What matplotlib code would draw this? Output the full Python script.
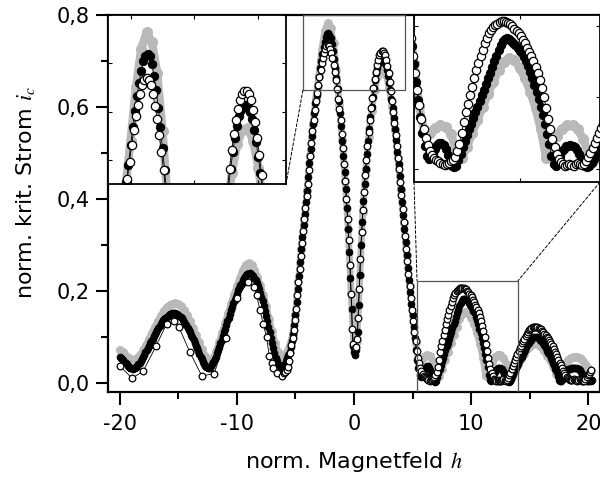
import numpy as np
import matplotlib
matplotlib.use("Agg")
import matplotlib.pyplot as plt
from matplotlib.patches import Rectangle, ConnectionPatch
from matplotlib.ticker import MultipleLocator, FuncFormatter

plt.rcParams["font.family"] = ["DejaVu Sans"]
plt.rcParams["mathtext.fontset"] = "stix"
plt.rcParams["axes.unicode_minus"] = False

# ---- data ----
# grey series, regular grid starting at -20, step 0.25
gray_x0, gray_dx = -20.0, 0.25
gray_y = [
    0.072, 0.066, 0.059, 0.053, 0.050, 0.050, 0.054, 0.061, 0.071, 0.083,
    0.096, 0.109, 0.122, 0.134, 0.146, 0.156, 0.164, 0.169, 0.172, 0.173,
    0.171, 0.166, 0.158, 0.147, 0.134, 0.120, 0.105, 0.089, 0.074, 0.059,
    0.047, 0.044, 0.053, 0.070, 0.089, 0.109, 0.130, 0.151, 0.172, 0.192,
    0.210, 0.228, 0.245, 0.257, 0.260, 0.256, 0.246, 0.231, 0.213, 0.191,
    0.166, 0.139, 0.112, 0.087, 0.068, 0.058, 0.058, 0.066, 0.080, 0.105,
    0.150, 0.222, 0.292, 0.358, 0.420, 0.495, 0.565, 0.620, 0.670, 0.725,
    0.765, 0.782, 0.772, 0.740, 0.680, 0.605, 0.530, 0.440, 0.335, 0.195,
    0.075, 0.090, 0.235, 0.372, 0.462, 0.535, 0.592, 0.636, 0.666, 0.681,
    0.683, 0.670, 0.642, 0.600, 0.550, 0.488, 0.420, 0.348, 0.278, 0.210,
    0.148, 0.088, 0.048, 0.050, 0.057, 0.061, 0.059, 0.048, 0.025, 0.015,
    0.030, 0.050, 0.068, 0.087, 0.105, 0.122, 0.138, 0.150, 0.155, 0.152,
    0.142, 0.127, 0.108, 0.085, 0.055, 0.015, 0.030, 0.046, 0.056, 0.061,
    0.061, 0.055, 0.042, 0.022, 0.012, 0.025, 0.040, 0.052, 0.063, 0.073,
    0.080, 0.085, 0.086, 0.083, 0.077, 0.069, 0.059, 0.049, 0.036, 0.020,
    0.012, 0.025, 0.040, 0.050, 0.055, 0.057, 0.057, 0.055, 0.050, 0.042,
    0.033, 0.025,
]

# black series: left part, middle, right part, all step 0.1
black_outer_x0 = -20.0
black_outer = [
    0.057, 0.055, 0.052, 0.049, 0.046, 0.043, 0.040, 0.037, 0.035, 0.033,
    0.032, 0.031, 0.032, 0.033, 0.035, 0.037, 0.040, 0.043, 0.047, 0.051,
    0.056, 0.061, 0.066, 0.071, 0.076, 0.081, 0.086, 0.091, 0.096, 0.101,
    0.106, 0.111, 0.115, 0.120, 0.124, 0.128, 0.132, 0.136, 0.139, 0.142,
    0.144, 0.146, 0.148, 0.149, 0.150, 0.151, 0.151, 0.151, 0.150, 0.149,
    0.148, 0.146, 0.143, 0.140, 0.137, 0.133, 0.129, 0.125, 0.120, 0.115,
    0.110, 0.105, 0.099, 0.093, 0.087, 0.081, 0.075, 0.069, 0.063, 0.057,
    0.052, 0.046, 0.041, 0.037, 0.034, 0.032, 0.032, 0.033, 0.036, 0.040,
    0.045, 0.051, 0.057, 0.064, 0.071, 0.078, 0.086, 0.094, 0.102, 0.110,
    0.118, 0.126, 0.134, 0.142, 0.150, 0.158, 0.165, 0.173, 0.180, 0.187,
    0.194, 0.201, 0.207, 0.213, 0.218, 0.223, 0.227, 0.231, 0.234, 0.236,
    0.238, 0.238, 0.237, 0.235, 0.232, 0.228, 0.223, 0.217, 0.211, 0.204,
    0.196, 0.187, 0.178, 0.168, 0.157, 0.146, 0.134, 0.122, 0.110, 0.098,
    0.086, 0.075, 0.064, 0.055, 0.047, 0.042, 0.038,
]
black_mid_x0 = -6.3
black_mid = [
    0.036, 0.035, 0.036, 0.038, 0.042, 0.048, 0.054, 0.061, 0.068, 0.077,
    0.090, 0.106, 0.125, 0.148, 0.175, 0.205, 0.233, 0.262, 0.290, 0.317,
    0.343, 0.368, 0.393, 0.418, 0.447, 0.478, 0.508, 0.537, 0.563, 0.587,
    0.608, 0.627, 0.645, 0.665, 0.684, 0.701, 0.716, 0.730, 0.742, 0.752,
    0.758, 0.760, 0.757, 0.749, 0.737, 0.722, 0.704, 0.684, 0.662, 0.639,
    0.614, 0.587, 0.558, 0.527, 0.494, 0.459, 0.421, 0.380, 0.335, 0.285,
    0.228, 0.160, 0.080,
    0.066, 0.060, 0.072, 0.110, 0.170, 0.235, 0.300, 0.350, 0.395, 0.432,
    0.466, 0.497, 0.526, 0.553, 0.578, 0.601, 0.622, 0.641, 0.658, 0.673,
    0.685, 0.695, 0.702, 0.706, 0.707, 0.705, 0.700, 0.692, 0.681, 0.668,
    0.653, 0.636, 0.617, 0.597, 0.575, 0.552, 0.528, 0.503, 0.477, 0.450,
    0.422, 0.393, 0.364, 0.335, 0.306, 0.278, 0.250, 0.223, 0.197, 0.172,
    0.147, 0.122, 0.097, 0.072, 0.050, 0.032,
]
black_right_x0 = 5.6
black_right = [
    0.018, 0.013, 0.015, 0.020, 0.027, 0.033, 0.036, 0.036, 0.033, 0.027,
    0.019, 0.010, 0.004, 0.002, 0.004, 0.012, 0.021, 0.030, 0.039, 0.047,
    0.055, 0.063, 0.071, 0.079, 0.087, 0.095, 0.103, 0.111, 0.119, 0.127,
    0.135, 0.143, 0.151, 0.159, 0.167, 0.174, 0.179, 0.182, 0.183, 0.182,
    0.180, 0.177, 0.174, 0.170, 0.166, 0.162, 0.157, 0.151, 0.144, 0.136,
    0.127, 0.118, 0.108, 0.098, 0.087, 0.075, 0.062, 0.049, 0.034, 0.018,
    0.006, 0.004, 0.010, 0.018, 0.024, 0.028, 0.031, 0.032, 0.033, 0.032,
    0.030, 0.026, 0.020, 0.013, 0.007, 0.003, 0.002, 0.003, 0.008, 0.014,
    0.020, 0.026, 0.032, 0.037, 0.042, 0.047, 0.052, 0.057, 0.062, 0.067,
    0.072, 0.077, 0.082, 0.086, 0.090, 0.094, 0.097, 0.099, 0.100, 0.100,
    0.100, 0.099, 0.097, 0.094, 0.091, 0.087, 0.083, 0.079, 0.075, 0.070,
    0.065, 0.060, 0.055, 0.050, 0.044, 0.038, 0.031, 0.023, 0.014, 0.007,
    0.003, 0.004, 0.009, 0.015, 0.020, 0.024, 0.027, 0.029, 0.031, 0.032,
    0.032, 0.032, 0.032, 0.032, 0.032, 0.031, 0.029, 0.027, 0.024, 0.020,
    0.016, 0.011, 0.007, 0.004, 0.003, 0.003, 0.004, 0.006,
]

# white (open) series: sparse on the left, then step 0.1
white_outer_x = [
    -20.0, -18.95, -18.0, -16.9, -16.0, -15.4, -14.96, -14.0, -12.99, -11.94,
    -10.94, -10.03, -9.03, -8.55, -8.32, -8.03, -7.75, -7.46, -7.24, -7.03,
    -6.9, -6.61, -6.18,
]
white_outer = [
    0.037, 0.010, 0.025, 0.080, 0.128, 0.135, 0.122, 0.066, 0.015, 0.020,
    0.097, 0.184, 0.219, 0.208, 0.191, 0.159, 0.128, 0.099, 0.059, 0.044,
    0.032, 0.021, 0.015,
]
white_mid_x0 = -5.95
white_mid = [
    0.022, 0.024, 0.027, 0.035, 0.047, 0.064, 0.082, 0.098, 0.115, 0.137,
    0.161, 0.190, 0.219, 0.248, 0.276, 0.304, 0.330, 0.356, 0.381, 0.406,
    0.432, 0.462, 0.493, 0.522, 0.548, 0.572, 0.594, 0.612, 0.630, 0.648,
    0.665, 0.681, 0.695, 0.707, 0.718, 0.727, 0.733, 0.735, 0.733, 0.727,
    0.718, 0.706, 0.692, 0.676, 0.658, 0.639, 0.618, 0.596, 0.572, 0.542,
    0.510, 0.477, 0.440, 0.400, 0.357, 0.310, 0.256, 0.194, 0.118, 0.085,
    0.075, 0.078, 0.095, 0.140, 0.205, 0.270, 0.327, 0.375, 0.416, 0.452,
    0.485, 0.516, 0.545, 0.572, 0.597, 0.620, 0.641, 0.660, 0.677, 0.691,
    0.703, 0.712, 0.718, 0.721, 0.721, 0.718, 0.712, 0.702, 0.689, 0.673,
    0.655, 0.634, 0.612, 0.589, 0.565, 0.540, 0.515, 0.490, 0.464, 0.436,
    0.408, 0.379, 0.350, 0.320, 0.292, 0.264, 0.236, 0.210, 0.184, 0.159,
    0.135, 0.111, 0.090, 0.070, 0.055,
]
white_right_x0 = 5.55
white_right = [
    0.043, 0.033, 0.025, 0.019, 0.015, 0.012, 0.010, 0.008, 0.006, 0.005,
    0.006, 0.008, 0.010, 0.012, 0.016, 0.024, 0.035, 0.050, 0.066, 0.079,
    0.091, 0.103, 0.115, 0.127, 0.138, 0.148, 0.158, 0.167, 0.176, 0.184,
    0.190, 0.195, 0.199, 0.202, 0.204, 0.206, 0.207, 0.207, 0.206, 0.205,
    0.203, 0.200, 0.197, 0.194, 0.190, 0.186, 0.181, 0.176, 0.170, 0.164,
    0.158, 0.151, 0.143, 0.134, 0.124, 0.113, 0.100, 0.085, 0.070, 0.055,
    0.041, 0.030, 0.021, 0.014, 0.009, 0.006, 0.004, 0.005, 0.007, 0.005,
    0.004, 0.006, 0.008, 0.006, 0.005, 0.007, 0.011, 0.016, 0.022, 0.029,
    0.036, 0.043, 0.050, 0.057, 0.063, 0.069, 0.075, 0.080, 0.086, 0.091,
    0.096, 0.101, 0.106, 0.110, 0.114, 0.117, 0.119, 0.121, 0.122, 0.122,
    0.122, 0.121, 0.120, 0.118, 0.116, 0.113, 0.110, 0.106, 0.103, 0.100,
    0.097, 0.093, 0.089, 0.084, 0.079, 0.074, 0.068, 0.062, 0.056, 0.050,
    0.044, 0.038, 0.032, 0.026, 0.021, 0.017, 0.013, 0.010, 0.008, 0.007,
    0.006, 0.007, 0.008, 0.007, 0.006, 0.005, 0.006, 0.008, 0.007, 0.005,
    0.004, 0.005, 0.008, 0.012, 0.016, 0.020, 0.024, 0.028,
]

GRAY = "#b9b9b9"


def on_grid(x0, dx, values):
    return x0 + dx * np.arange(len(values))


x_gray = on_grid(gray_x0, gray_dx, gray_y)
x_black = np.concatenate([on_grid(black_outer_x0, 0.1, black_outer),
                          on_grid(black_mid_x0, 0.1, black_mid),
                          on_grid(black_right_x0, 0.1, black_right)])
y_black = np.concatenate([black_outer, black_mid, black_right])
x_white = np.concatenate([white_outer_x,
                          on_grid(white_mid_x0, 0.1, white_mid),
                          on_grid(white_right_x0, 0.1, white_right)])
y_white = np.concatenate([white_outer, white_mid, white_right])


def draw_series(ax, ms_small, ms_gray):
    ax.plot(x_gray, gray_y, "-o", ms=ms_gray, lw=ms_gray * 0.75, color=GRAY,
            mec="none", solid_capstyle="round", solid_joinstyle="round", zorder=1)
    ax.plot(x_black, y_black, "-o", color="black", lw=0.6, ms=ms_small,
            mec="black", mew=0.7, zorder=2)
    ax.plot(x_white, y_white, "-o", color="black", lw=0.6, ms=ms_small,
            mfc="white", mec="black", mew=0.9, zorder=3)


fig = plt.figure(figsize=(6, 4.78), dpi=100)

# main axes
ax = fig.add_axes([0.18, 0.1799, 0.82, 0.7887])
draw_series(ax, 4.8, 6.4)
ax.set_xlim(-21, 21)
ax.set_ylim(-0.02, 0.8)
ax.xaxis.set_major_locator(MultipleLocator(10))
ax.xaxis.set_minor_locator(MultipleLocator(5))
ax.yaxis.set_major_locator(MultipleLocator(0.2))
ax.yaxis.set_minor_locator(MultipleLocator(0.1))
ax.yaxis.set_major_formatter(FuncFormatter(lambda v, p: f"{v:.1f}".replace(".", ",")))
ax.xaxis.set_major_formatter(FuncFormatter(lambda v, p: f"{v:.0f}"))
ax.tick_params(which="major", direction="out", length=9, width=1.5, labelsize=15)
ax.tick_params(which="minor", direction="out", length=5, width=1.5)
ax.tick_params(axis="x", pad=7)
ax.tick_params(axis="y", pad=4)
for s in ax.spines.values():
    s.set_linewidth(1.6)
ax.set_xlabel("norm. Magnetfeld $h$", fontsize=16)
ax.set_ylabel("norm. krit. Strom $i_c$", fontsize=16)
ax.xaxis.set_label_coords(0.5, -0.155)
ax.yaxis.set_label_coords(-0.145, 0.53)

# zoom rectangles in the main plot
rect1 = (-4.36, 0.637, 8.72, 0.163)
rect2 = (5.38, -0.02, 8.62, 0.242)
for r in (rect1, rect2):
    ax.add_patch(Rectangle((r[0], r[1]), r[2], r[3], fill=False, lw=0.9,
                           ec="#555555", zorder=5))

# insets
ax1 = fig.add_axes([0.18, 0.6151, 0.2967, 0.3536])
draw_series(ax1, 6.0, 8.0)
ax1.set_xlim(-4.06, 4.3)
ax1.set_ylim(0.625, 0.8)
ax1.xaxis.set_major_locator(MultipleLocator(3))
ax1.yaxis.set_major_locator(MultipleLocator(0.05))

ax2 = fig.add_axes([0.69, 0.6192, 0.31, 0.3494])
draw_series(ax2, 6.0, 8.0)
ax2.set_xlim(5.0, 13.8)
ax2.set_ylim(-0.019, 0.216)
ax2.xaxis.set_major_locator(MultipleLocator(5))
ax2.yaxis.set_major_locator(MultipleLocator(0.1))

for a in (ax1, ax2):
    a.set_facecolor("white")
    a.tick_params(which="both", direction="in", length=3, width=0.8,
                  top=True, right=True, labelbottom=False, labelleft=False)
    for s in a.spines.values():
        s.set_linewidth(1.3)

# dashed connectors
dash = dict(ls=(0, (3, 2)), lw=0.7, color="black", zorder=6)
fig.add_artist(ConnectionPatch(xyA=(1, 0), coordsA=ax1.transAxes,
                               xyB=(rect1[0], rect1[1]), coordsB=ax.transData, **dash))
fig.add_artist(ConnectionPatch(xyA=(0, 0), coordsA=ax2.transAxes,
                               xyB=(rect2[0], rect2[1] + rect2[3]), coordsB=ax.transData, **dash))
fig.add_artist(ConnectionPatch(xyA=(1, 0), coordsA=ax2.transAxes,
                               xyB=(rect2[0] + rect2[2], rect2[1] + rect2[3]),
                               coordsB=ax.transData, **dash))

fig.savefig("out.png", dpi=100)
